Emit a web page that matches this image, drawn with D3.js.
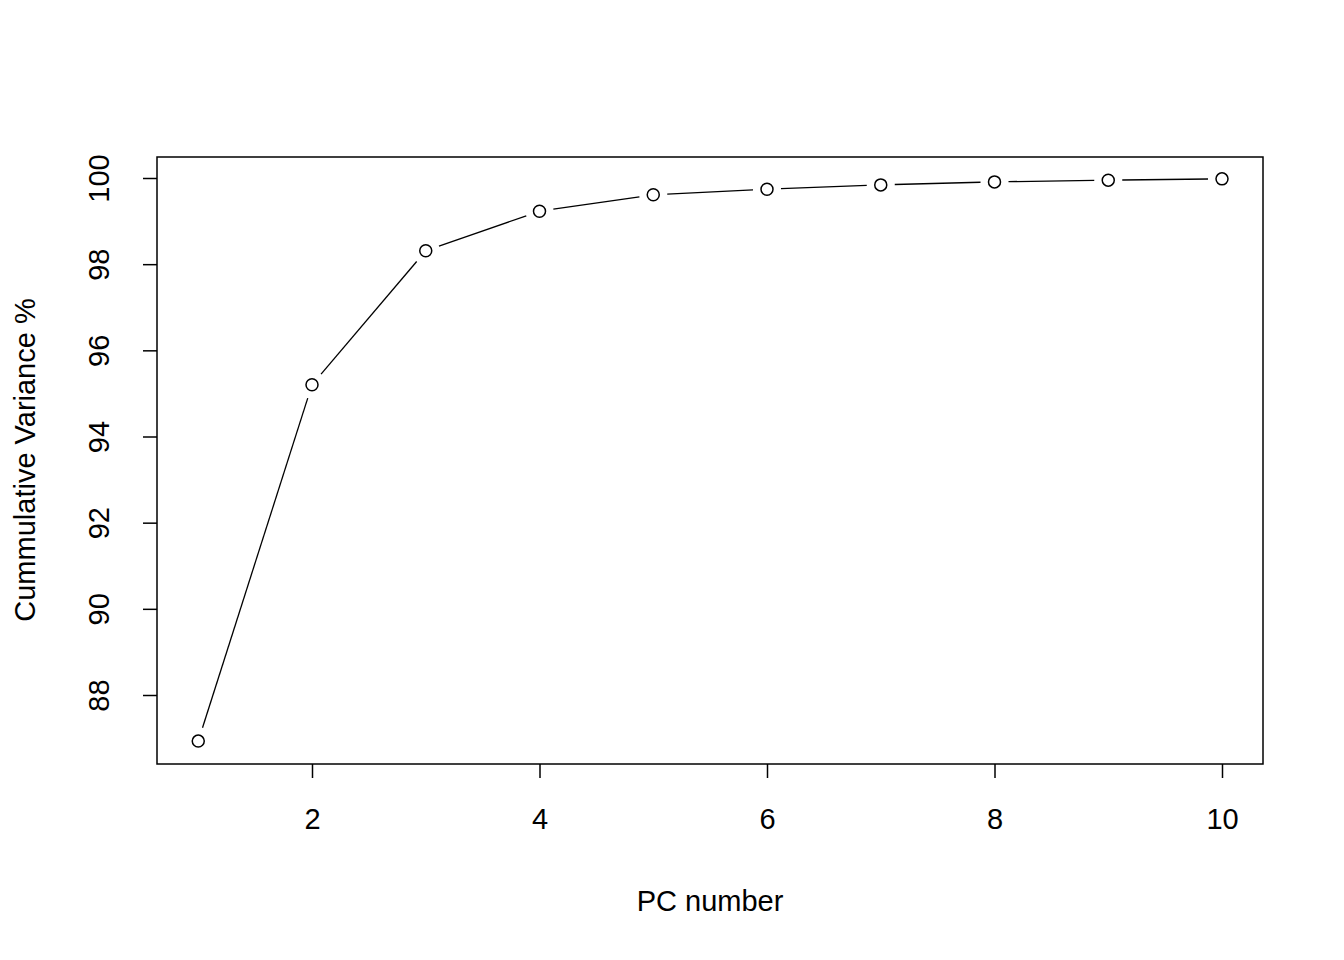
<!DOCTYPE html>
<html>
<head>
<meta charset="utf-8">
<script src="https://d3js.org/d3.v7.min.js"></script>
<style>
body { margin: 0; background: #fff; }
text { font-family: "Liberation Sans", Arial, sans-serif; fill: #000; }
</style>
</head>
<body>
<svg id="SVG" width="1344" height="960"></svg>
<script>
var pcs = [1, 2, 3, 4, 5, 6, 7, 8, 9, 10];
var cumVar = [86.93, 95.2, 98.31, 99.23, 99.61, 99.74, 99.84, 99.91, 99.95, 99.98];
var xTicks = [2, 4, 6, 8, 10];
var yTicks = [88, 90, 92, 94, 96, 98, 100];

var svg = d3.select("#SVG"),
	boxLeft = 157, boxRight = 1263, boxTop = 157, boxBottom = 764;

var x = d3.scaleLinear().domain([2, 10]).range([312, 1222]);
var y = d3.scaleLinear().domain([88, 100]).range([695, 178]);

svg.append("rect")
	.attr("x", boxLeft).attr("y", boxTop)
	.attr("width", boxRight - boxLeft).attr("height", boxBottom - boxTop)
	.attr("fill", "none").attr("stroke", "#000").attr("stroke-width", 1.5);

var xAxis = svg.append("g")
	.attr("transform", "translate(0," + boxBottom + ")")
	.call(d3.axisBottom(x).tickValues(xTicks).tickSize(14).tickPadding(30).tickSizeOuter(0));
xAxis.select(".domain").remove();
xAxis.selectAll("line").attr("stroke-width", 1.5);
xAxis.selectAll("text").attr("font-size", 29).attr("font-family", "Liberation Sans, Arial, sans-serif");

var yAxis = svg.append("g")
	.attr("transform", "translate(" + boxLeft + ",0)")
	.call(d3.axisLeft(y).tickValues(yTicks).tickSize(14).tickFormat(d3.format("d")));
yAxis.select(".domain").remove();
yAxis.selectAll("line").attr("stroke-width", 1.5);
yAxis.selectAll("text")
	.attr("font-size", 29).attr("font-family", "Liberation Sans, Arial, sans-serif")
	.attr("x", 0).attr("dy", 0)
	.attr("text-anchor", "middle")
	.attr("transform", "translate(-56,0) rotate(-90)")
	.attr("dominant-baseline", "middle");

// line segments with gaps around points (R type "b")
var gap = 14;
var pts = pcs.map(function(p, i) { return [x(p), y(cumVar[i])]; });
for (var i = 0; i < pts.length - 1; i++) {
	var a = pts[i], b = pts[i + 1];
	var dx = b[0] - a[0], dy = b[1] - a[1], len = Math.sqrt(dx * dx + dy * dy);
	if (len <= 2 * gap) continue;
	var ux = dx / len, uy = dy / len;
	svg.append("line")
		.attr("x1", a[0] + ux * gap).attr("y1", a[1] + uy * gap)
		.attr("x2", b[0] - ux * gap).attr("y2", b[1] - uy * gap)
		.attr("stroke", "#000").attr("stroke-width", 1.3);
}

svg.append("g").selectAll("circle")
	.data(pts).enter().append("circle")
	.attr("cx", function(d) { return d[0]; })
	.attr("cy", function(d) { return d[1]; })
	.attr("r", 6)
	.attr("fill", "none").attr("stroke", "#000").attr("stroke-width", 1.5);

svg.append("text")
	.attr("x", 710).attr("y", 911)
	.attr("text-anchor", "middle").attr("font-size", 29)
	.text("PC number");

svg.append("text")
	.attr("transform", "translate(35,460) rotate(-90)")
	.attr("text-anchor", "middle").attr("font-size", 29)
	.text("Cummulative Variance %");
</script>
</body>
</html>
